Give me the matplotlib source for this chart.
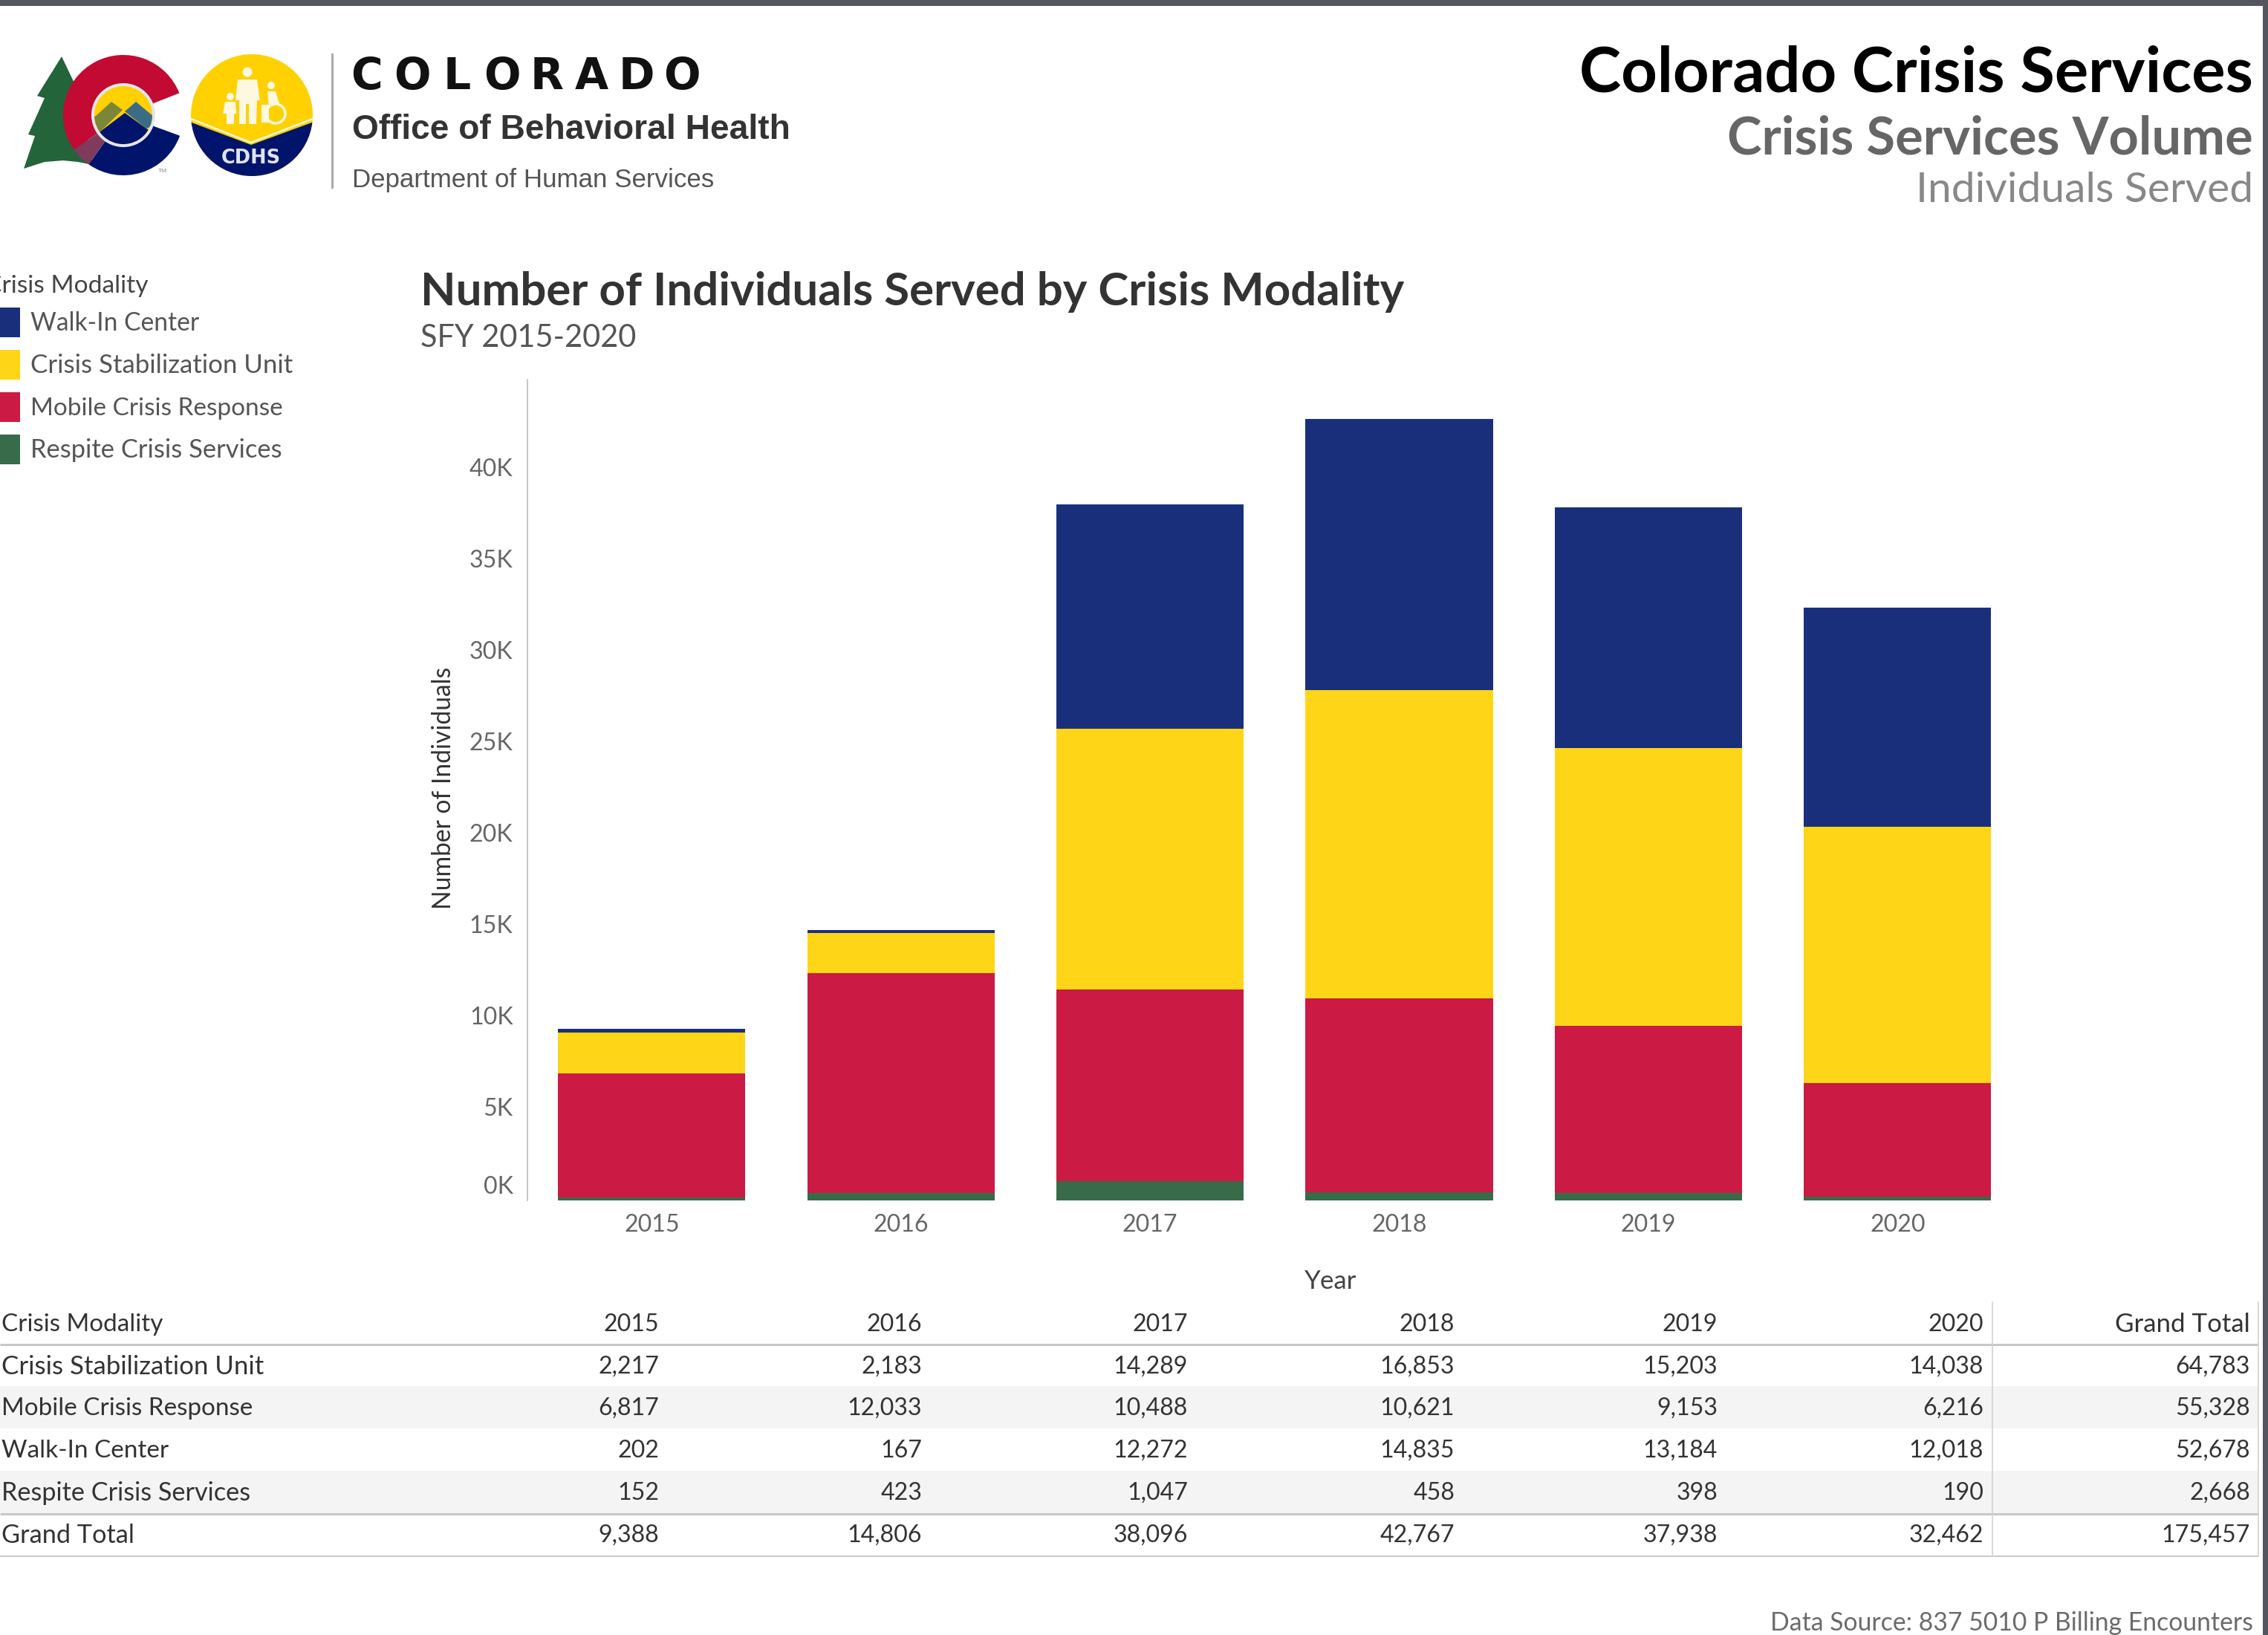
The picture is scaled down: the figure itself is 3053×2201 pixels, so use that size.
import numpy as np
import matplotlib
matplotlib.use("Agg")
import matplotlib.pyplot as plt
import matplotlib.transforms as mt
from matplotlib.patches import Rectangle, Wedge, Circle, Polygon

# ---------- data ----------
years = [2015, 2016, 2017, 2018, 2019, 2020]
csu = [2217, 2183, 14289, 16853, 15203, 14038]
mobile = [6817, 12033, 10488, 10621, 9153, 6216]
walkin = [202, 167, 12272, 14835, 13184, 12018]
respite = [152, 423, 1047, 458, 398, 190]
grand_row = [9388, 14806, 38096, 42767, 37938, 32462]
row_names = ["Crisis Stabilization Unit", "Mobile Crisis Response", "Walk-In Center",
             "Respite Crisis Services", "Grand Total"]
row_totals = [64783, 55328, 52678, 2668, 175457]
legend_names = ["Walk-In Center", "Crisis Stabilization Unit", "Mobile Crisis Response", "Respite Crisis Services"]
yticks = [0, 5000, 10000, 15000, 20000, 25000, 30000, 35000, 40000]

NAVY, YEL, RED, GRN = "#1a2f7c", "#ffd517", "#cb1a44", "#376b49"
W, H = 3053, 2201
BODY = "Lato"
REG = "Liberation Sans"

fig = plt.figure(figsize=(W/100, H/100), dpi=100, facecolor="white")
ov = fig.add_axes([0, 0, 1, 1], zorder=0)
ov.set_xlim(0, W); ov.set_ylim(H, 0); ov.axis("off")
top = fig.add_axes([0, 0, 1, 1], zorder=3)
top.set_xlim(0, W); top.set_ylim(H, 0); top.axis("off"); top.patch.set_alpha(0)
fig.canvas.draw()
rend = fig.canvas.get_renderer()

def fit(s, width, family=BODY, weight="normal"):
    t = top.text(0, 0, s, fontsize=20, family=family, fontweight=weight)
    w = t.get_window_extent(rend).width
    t.remove()
    return 20 * width / w

def txt(x, y, s, size, family=BODY, color="#333333", ha="left", weight="normal", va="baseline", **k):
    return top.text(x, y, s, fontsize=size, family=family, color=color, ha=ha, va=va, fontweight=weight, **k)

# frame
ov.add_patch(Rectangle((0, 0), W, 8, color="#53565f", lw=0))
ov.add_patch(Rectangle((W-7, 0), 7, H, color="#53565f", lw=0))

# ---------- logo ----------
tree = [(83,76),(104,120),(125,222),(105,218),(85,216),(60,218),(32,227),(47,183),(38,181),(60,132),(50,129)]
ov.add_patch(Polygon(tree, color="#24643a", lw=0))
cx, cy, R, r = 166, 155, 81, 42
ov.add_patch(Wedge((cx,cy), R, 145, 338.5, width=R-r, color="#c20a32", lw=0))
ov.add_patch(Wedge((cx,cy), R, 20, 125, width=R-r, color="#00146b", lw=0))
ov.add_patch(Wedge((cx,cy), R, 125, 145, width=R-r, color="#7f3a5e", lw=0))
ov.add_patch(Circle((cx,cy), r+1, color="#e3e5ee", lw=0))
clipc = Circle((cx,cy), r-3, color="#ffd100", lw=0)
ov.add_patch(clipc)
for pts, c in [([(120,150),(128,157),(150,137),(165,148),(135,177),(120,175)], "#7c8638"),
               ([(168,150),(183,137),(207,157),(215,165),(197,173)], "#3a6d85"),
               ([(168,152),(197,173),(215,185),(215,205),(120,205),(120,195),(135,177)], "#00146b")]:
    p = Polygon(pts, color=c, lw=0); ov.add_patch(p); p.set_clip_path(clipc)
bc = (339, 155)
disc = Circle(bc, 82, color="#ffd100", lw=0); ov.add_patch(disc)
blue = Polygon([(250,162),(338,195),(428,162),(428,245),(250,245)], color="#00146b", lw=0)
ov.add_patch(blue); blue.set_clip_path(disc)
ov.plot([257,338,421],[160,192,160], color="#fff6dd", lw=1.8, zorder=3)
FIG = "#fff8e0"
for c0, rr in [((333,97),6.5), ((310,130),5), ((365,115),5)]:
    ov.add_patch(Circle(c0, rr, color=FIG, lw=0))
# adult
ov.add_patch(Polygon([(320,107),(346,107),(350,135),(346,135),(345,167),(335,167),(335,140),(331,140),(331,167),(322,167),(322,135),(317,135)], color=FIG, lw=0))
# child
ov.add_patch(Polygon([(303,137),(317,137),(318,153),(315,153),(315,167),(305,167),(305,153),(300,153)], color=FIG, lw=0))
# wheelchair user
ov.add_patch(Polygon([(360,123),(371,123),(376,140),(362,144)], color=FIG, lw=0))
ov.add_patch(Polygon([(352,141),(362,141),(362,165),(352,165)], color=FIG, lw=0))
ov.add_patch(Circle((371,153), 13, fc="none", ec=FIG, lw=2.5))
txt(338, 220, "CDHS", fit("CDHS", 80, "DejaVu Sans", "bold"), family="DejaVu Sans", color="#dfe3ee", ha="center", weight="bold")
txt(213, 232, "TM", 6, family=REG, color="#888888")
ov.plot([447,447],[73,252], color="#aaaaaa", lw=2.2)
for i, ch in enumerate("COLORADO"):
    txt(474 + 60.5*i + 20, 120, ch, 42, family="DejaVu Sans", color="#111111", ha="center", weight="bold")
txt(474, 187, "Office of Behavioral Health", fit("Office of Behavioral Health", 589, REG, "bold"), family=REG, weight="bold", color="#333333")
txt(474, 252, "Department of Human Services", fit("Department of Human Services", 486, REG), family=REG, color="#555555")

# ---------- page titles ----------
RX = 3033
for s, y, wd, col, wt in [("Colorado Crisis Services", 123, 908, "#000000", "bold"),
                          ("Crisis Services Volume", 207, 708, "#666666", "bold"),
                          ("Individuals Served", 272, 455, "#888888", "normal")]:
    txt(RX, y, s, fit(s, wd, BODY, wt), color=col, ha="right", weight=wt)
s = "Data Source: 837 5010 P Billing Encounters"
txt(RX, 2195, s, fit(s, 651), color="#6b6b6b", ha="right")

s = "Number of Individuals Served by Crisis Modality"
txt(566, 411, s, fit(s, 1325, BODY, "bold"), color="#333333", weight="bold")
s = "SFY 2015-2020"
txt(566, 467, s, fit(s, 290), color="#555555")

# ---------- legend ----------
base = fit("Crisis Stabilization Unit", 354)
nums = base * 0.92
txt(-20, 394, "Crisis Modality", base*0.96, color="#444444")
for name, col, y0, wd in zip(legend_names, [NAVY, YEL, RED, GRN], [414, 471, 528, 585], [228, 354, 341, 339]):
    ov.add_patch(Rectangle((0, y0), 27, 40, color=col, lw=0))
    txt(41, y0+31, name, fit(name, wd), color="#555555")

# ---------- chart ----------
L, Rt, T, B = 710, 2722, 511, 1616
ax = fig.add_axes([L/W, 1-B/H, (Rt-L)/W, (B-T)/H], zorder=1)
ax.patch.set_alpha(0)
x = np.arange(len(years))
bottom = np.zeros(len(years))
for vals, col in [(respite, GRN), (mobile, RED), (csu, YEL), (walkin, NAVY)]:
    ax.bar(x, vals, 0.752, bottom=bottom, color=col, lw=0)
    bottom += np.array(vals)
ax.set_xlim(-0.499, 5.5)
ax.set_ylim(0, 44937)
for sp in ["top", "right", "bottom"]:
    ax.spines[sp].set_visible(False)
ax.spines["left"].set_color("#bbbbbb"); ax.spines["left"].set_linewidth(1.2)
ax.set_xticks(x, [str(v) for v in years], family=BODY, fontsize=nums, color="#666666")
ax.set_yticks(yticks, [f"{v//1000}K" for v in yticks], family=BODY, fontsize=nums, color="#666666")
ax.tick_params(length=0, pad=14)
ax.tick_params(axis="x", pad=13)
for i, lab in enumerate(ax.get_yticklabels()):
    up = 21 if i == 0 else 3
    lab.set_transform(lab.get_transform() + mt.ScaledTranslation(0, up/100, fig.dpi_scale_trans))
s = "Number of Individuals"
txt(597, 1061, s, fit(s, 327), color="#333333", rotation=90, ha="center", va="center")
txt(1791, 1725, "Year", base, color="#444444", ha="center", va="center")

# ---------- table ----------
col_right = [887, 1241, 1599, 1958, 2312, 2670]
TOTAL_R = 3029
row_y = [1837, 1893, 1950, 2007, 2064]
row_name_widths = [354, 339, 226, 337, 179]
for y0, y1 in [(1866, 1923), (1980, 2037)]:
    ov.add_patch(Rectangle((0, y0), 3040, y1-y0, color="#f4f4f4", lw=0))
for y, lw_ in [(1810, 2.2), (2038, 2.2), (2095, 1.4)]:
    ov.plot([0, 3040], [y, y], color="#c8c8c8", lw=lw_, solid_capstyle="butt")
for xv in [2682, 3040]:
    ov.plot([xv, xv], [1753, 2095], color="#d2d2d2", lw=1.2)
kw = dict(color="#333333", va="center_baseline")
txt(2, 1780, "Crisis Modality", fit("Crisis Modality", 218), **kw)
for xr, yr in zip(col_right, years):
    txt(xr, 1780, str(yr), nums, ha="right", **kw)
txt(TOTAL_R, 1780, "Grand Total", base, ha="right", **kw)
rows = [csu, mobile, walkin, respite, grand_row]
for name, vals, tot, y, wd in zip(row_names, rows, row_totals, row_y, row_name_widths):
    txt(2, y, name, fit(name, wd), **kw)
    for xr, v in zip(col_right, vals):
        txt(xr, y, f"{v:,}", nums, ha="right", **kw)
    txt(TOTAL_R, y, f"{tot:,}", nums, ha="right", **kw)

fig.savefig("out.png", dpi=100, facecolor="white")
